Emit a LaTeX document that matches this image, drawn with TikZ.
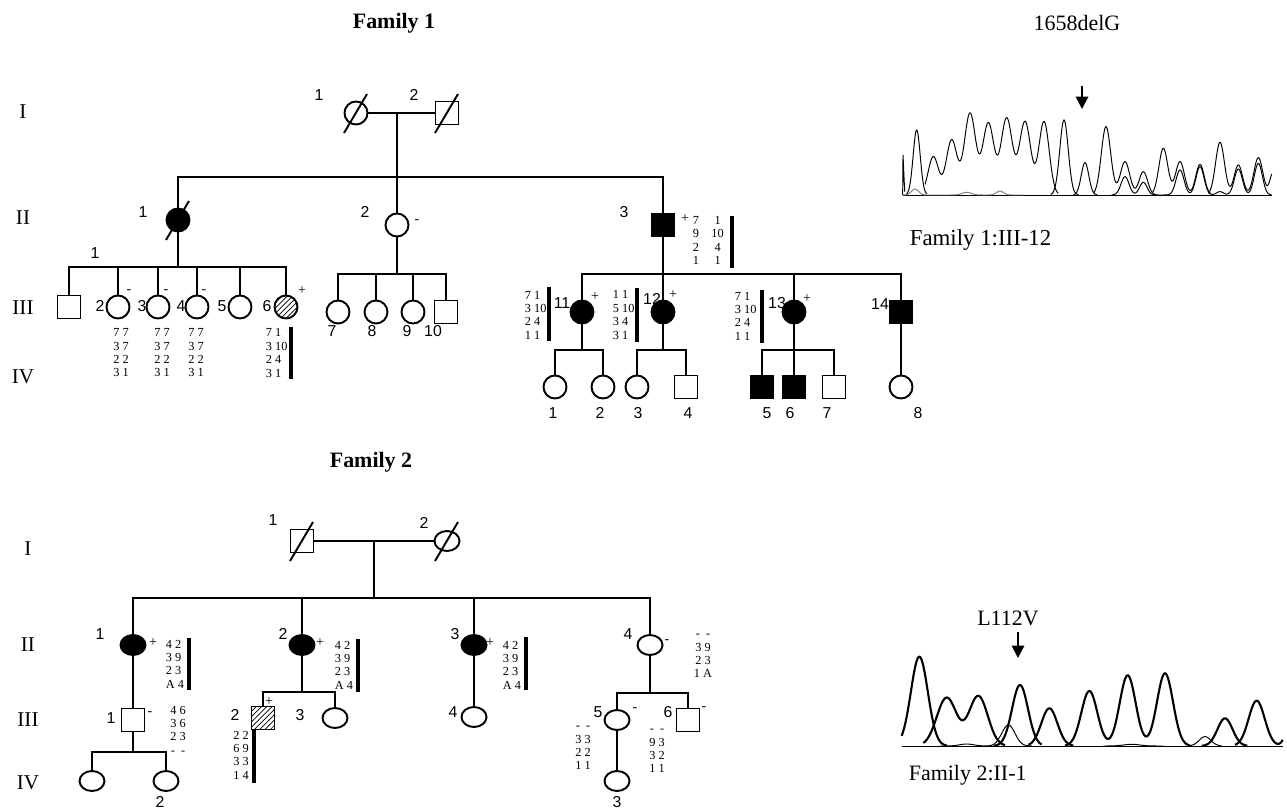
\documentclass[tikz,border=0pt]{standalone}
\usepackage{fontspec}
\setmainfont{Liberation Serif}
\setsansfont{Liberation Sans}
\usetikzlibrary{shapes.geometric,patterns,arrows.meta}

\tikzset{
  male/.style={draw, rectangle, minimum size=0.46cm, inner sep=0pt},
  female/.style={draw, circle, minimum size=0.46cm, inner sep=0pt},
  femaleb/.style={draw, ellipse, minimum width=0.5cm, minimum height=0.4cm, inner sep=0pt},
  affected/.style={fill=black},
  carrier/.style={pattern=north east lines},
  num/.style={font=\sffamily\fontsize{9}{9}\selectfont, inner sep=0pt},
  sign/.style={font=\fontsize{8}{8}\selectfont, inner sep=0pt},
  geno/.style={font=\fontsize{7}{7.6}\selectfont, inner sep=0pt, align=center},
  genlbl/.style={font=\fontsize{12}{12}\selectfont, inner sep=0pt},
  hapbar/.style={line width=2.3pt},
  trace/.style={line width=0.55pt, samples=80, variable=\x},
  tracebold/.style={line width=1.2pt, samples=60, variable=\x},
}

\begin{document}
\begin{tikzpicture}[x=0.02cm, y=-0.02cm, line width=1.1pt,
    declare function={pk(\t,\c,\h,\s)=\h*exp(-((\t-\c)/\s)^2);}]
    \useasboundingbox (0,0) rectangle (1287,810);

    % titles
    \node[font=\bfseries\fontsize{12.5}{12.5}\selectfont] (tA) at (394,23) {Family 1};
    \node[font=\bfseries\fontsize{12.5}{12.5}\selectfont] (tB) at (371,462) {Family 2};
    \node[font=\fontsize{12.5}{12.5}\selectfont] (tMutA) at (1077,23) {1658delG};
    \node[font=\fontsize{12.5}{12.5}\selectfont] (tMutB) at (1008,618) {L112V};
    \node[font=\fontsize{13}{13}\selectfont, anchor=west] (cA) at (903,240) {Family 1:III-12};
    \node[font=\fontsize{12.5}{12.5}\selectfont, anchor=west] (cB) at (902,775) {Family 2:II-1};

    % generations
    \foreach \g/\y in {I/112, II/218, III/308, IV/377}
        \node[genlbl] (gA\g) at (23,\y) {\g};
    \foreach \g/\y in {I/549, II/645, III/720, IV/783}
        \node[genlbl] (gB\g) at (28,\y) {\g};

    % ---------- Family 1 ----------
    \node[female] (AI1) at (356,113) {};
    \node[male] (AI2) at (447,113) {};
    \node[female,affected] (AII1) at (178,220) {};
    \node[female] (AII2) at (397,225) {};
    \node[male,affected] (AII3) at (663,225) {};

    \node[male] (AIII1) at (69,307) {};
    \foreach \k/\x in {2/118, 3/158, 4/197, 5/240}
        \node[female] (AIII\k) at (\x,307) {};
    \node[female,carrier] (AIII6) at (286,307) {};
    \foreach \k/\x in {7/338, 8/376, 9/413}
        \node[female] (AIII\k) at (\x,312) {};
    \node[male] (AIII10) at (446,312) {};
    \foreach \k/\x in {11/582, 12/663, 13/794}
        \node[female,affected] (AIII\k) at (\x,312) {};
    \node[male,affected] (AIII14) at (901,312) {};

    \foreach \k/\x in {1/555, 2/603, 3/637, 8/901}
        \node[female] (AIV\k) at (\x,387) {};
    \node[male] (AIV4) at (686,387) {};
    \node[male,affected] (AIV5) at (762,387) {};
    \node[male,affected] (AIV6) at (794,387) {};
    \node[male] (AIV7) at (834,387) {};

    \coordinate (mA) at (397,113);
    \coordinate (sA1) at (397,177);
    \coordinate (sA2) at (178,267);
    \coordinate (sA3) at (397,274);
    \coordinate (sA4) at (663,274);
    \coordinate (sA5) at (582,350);
    \coordinate (sA6) at (663,350);
    \coordinate (sA7) at (794,350);

    \draw (AI1) -- (AI2);
    \draw (mA) -- (AII2);
    \draw (AII1) |- (sA1) -| (AII3);
    \draw (AII1) -- (sA2);
    \draw (AIII1) |- (sA2) -| (AIII6);
    \foreach \k in {2,...,5}
        \draw (AIII\k) -- (AIII\k |- sA2);
    \draw (AII2) -- (sA3);
    \draw (AIII7) |- (sA3) -| (AIII10);
    \foreach \k in {8,9}
        \draw (AIII\k) -- (AIII\k |- sA3);
    \draw (AII3) -- (AIII12);
    \draw (AIII11) |- (sA4) -| (AIII14);
    \draw (AIII13) -- (AIII13 |- sA4);
    \draw (AIII11) -- (sA5);
    \draw (AIV1) |- (sA5) -| (AIV2);
    \draw (AIII12) -- (sA6);
    \draw (AIV3) |- (sA6) -| (AIV4);
    \draw (AIII13) -- (AIV6);
    \draw (AIV5) |- (sA7) -| (AIV7);
    \draw (AIII14) -- (AIV8);

    % numbers
    \node[num] (nAI1) at (319,95) {1};
    \node[num] (nAI2) at (414,95) {2};
    \node[num] (nAII1) at (143,212) {1};
    \node[num] (nAII2) at (365,212) {2};
    \node[num] (nAII3) at (624,212) {3};
    \node[num] (nAIII1) at (95,253) {1};
    \foreach \k/\x in {2/100, 3/142, 4/181, 5/222, 6/267}
        \node[num] (nAIII\k) at (\x,306) {\k};
    \foreach \k/\x in {7/332, 8/372, 9/407, 10/433}
        \node[num] (nAIII\k) at (\x,331) {\k};
    \node[num] (nAIII11) at (562,303) {11};
    \node[num] (nAIII12) at (652,299) {12};
    \node[num] (nAIII13) at (777,303) {13};
    \node[num] (nAIII14) at (880,304) {14};
    \foreach \k/\x in {1/553, 2/600, 3/638, 4/688, 5/767, 6/790, 7/827, 8/918}
        \node[num] (nAIV\k) at (\x,413) {\k};

    % signs
    \node[sign] (pAII2) at (417,222) {-};
    \node[sign] (pAII3) at (685,219) {+};
    \foreach \k/\x in {2/129, 3/166, 4/204}
        \node[sign] (pAIII\k) at (\x,292) {-};
    \node[sign] (pAIII6) at (302,291) {+};
    \node[sign] (pAIII11) at (595,297) {+};
    \node[sign] (pAIII12) at (673,295) {+};
    \node[sign] (pAIII13) at (807,299) {+};

    % haplotypes
    \foreach \k/\x in {2/121, 3/162, 4/196}
        \node[geno] (hAIII\k) at (\x,353) {7 7\\3 7\\2 2\\3 1};
    \node[geno, anchor=west, align=left] (hAIII6) at (265,353) {7 1\\3 10\\2 4\\3 1};
    \node[geno, anchor=west, align=left] (hAIII11) at (524,315) {7 1\\3 10\\2 4\\1 1};
    \node[geno, anchor=west, align=left] (hAIII12) at (612,315) {1 1\\5 10\\3 4\\3 1};
    \node[geno, anchor=west, align=left] (hAIII13) at (734,316) {7 1\\3 10\\2 4\\1 1};
    \node[geno, anchor=west] (hAII3) at (692,242)
        {\begin{tabular}{@{}c@{\hspace{7pt}}c@{}}7&1\\9&10\\2&4\\1&1\end{tabular}};
    \draw[hapbar] (291,327) -- (291,379);
    \draw[hapbar] (549,287) -- (549,341);
    \draw[hapbar] (637,288) -- (637,342);
    \draw[hapbar] (762,290) -- (762,343);
    \draw[hapbar] (732,216) -- (732,268);

    % ---------- Family 2 ----------
    \node[male] (BI1) at (302,541) {};
    \node[femaleb] (BI2) at (447,541) {};
    \foreach \k/\x in {1/133, 2/302, 3/474}
        \node[femaleb,affected] (BII\k) at (\x,645) {};
    \node[femaleb] (BII4) at (650,645) {};
    \node[male] (BIII1) at (133,720) {};
    \node[male,carrier] (BIII2) at (263,718) {};
    \node[femaleb] (BIII3) at (335,718) {};
    \node[femaleb] (BIII4) at (474,717) {};
    \node[femaleb] (BIII5) at (617,720) {};
    \node[male] (BIII6) at (688,720) {};
    \node[femaleb] (BIV1) at (92,781) {};
    \node[femaleb] (BIV2) at (166,781) {};
    \node[femaleb] (BIV3) at (617,781) {};

    \coordinate (mB) at (374,541);
    \coordinate (sB1) at (374,598);
    \coordinate (sB2) at (133,752);
    \coordinate (sB3) at (302,692);
    \coordinate (sB4) at (650,693);

    \draw (BI1) -- (BI2);
    \draw (mB) -- (sB1);
    \draw (BII1) |- (sB1) -| (BII4);
    \draw (BII2) -- (BII2 |- sB1);
    \draw (BII3) -- (BII3 |- sB1);
    \draw (BII1) -- (BIII1);
    \draw (BIII1) -- (sB2);
    \draw (BIV1) |- (sB2) -| (BIV2);
    \draw (BII2) -- (sB3);
    \draw (BIII2) |- (sB3) -| (BIII3);
    \draw (BII3) -- (BIII4);
    \draw (BII4) -- (sB4);
    \draw (BIII5) |- (sB4) -| (BIII6);
    \draw (BIII5) -- (BIV3);

    \foreach \n in {AI1, AI2, AII1, BI1, BI2}
        \draw ([shift={(-12,20)}]\n.center) -- ([shift={(11,-19)}]\n.center);

    \node[num] (nBI1) at (273,520) {1};
    \node[num] (nBI2) at (424,523) {2};
    \foreach \k/\x in {1/100, 2/283, 3/455, 4/628}
        \node[num] (nBII\k) at (\x,634) {\k};
    \node[num] (nBIII1) at (111,718) {1};
    \node[num] (nBIII2) at (235,715) {2};
    \node[num] (nBIII3) at (300,715) {3};
    \node[num] (nBIII4) at (453,712) {4};
    \node[num] (nBIII5) at (598,712) {5};
    \node[num] (nBIII6) at (668,712) {6};
    \node[num] (nBIV2) at (160,802) {2};
    \node[num] (nBIV3) at (617,802) {3};

    \node[sign] (pBII1) at (153,643) {+};
    \node[sign] (pBII2) at (320,643) {+};
    \node[sign] (pBII3) at (490,643) {+};
    \node[sign] (pBII4) at (667,642) {-};
    \node[sign] (pBIII1) at (150,714) {-};
    \node[sign] (pBIII2) at (269,702) {+};
    \node[sign] (pBIII5) at (635,710) {-};
    \node[sign] (pBIII6) at (704,709) {-};

    \node[geno, anchor=west, align=left] (hBII1) at (165,664) {4 2\\3 9\\2 3\\A 4};
    \node[geno, anchor=west, align=left] (hBII2) at (334,665) {4 2\\3 9\\2 3\\A 4};
    \node[geno, anchor=west, align=left] (hBII3) at (502,665) {4 2\\3 9\\2 3\\A 4};
    \node[geno] (hBII4) at (703,656) {- \ -\\3 9\\2 3\\1 A};
    \node[geno] (hBIII1) at (178,730) {4 6\\3 6\\2 3\\- \ -};
    \node[geno] (hBIII2) at (241,755) {2 2\\6 9\\3 3\\1 4};
    \node[geno] (hBIII5) at (583,748) {- \ -\\3 3\\2 2\\1 1};
    \node[geno] (hBIII6) at (657,751) {- \ -\\9 3\\3 2\\1 1};
    \draw[hapbar] (189,638) -- (189,690);
    \draw[hapbar] (358,639) -- (358,692);
    \draw[hapbar] (526,637) -- (526,690);
    \draw[hapbar] (254,730) -- (254,783);

    % ---------- sequence traces ----------
    \coordinate (arA1) at (1082,86);
    \coordinate (arA2) at (1082,109);
    \draw[-{Triangle[length=7pt,width=7pt]}] (arA1) -- (arA2);
    \coordinate (arB1) at (1018,632);
    \coordinate (arB2) at (1018,658);
    \draw[-{Triangle[length=7pt,width=7pt]}] (arB1) -- (arB2);

    \begin{scope}[shift={(890,60)}, scale=1/3]
        \draw[trace] (38,405) -- (1145,405);
        \draw[trace] (38,405) -- (39,285) -- (44,395);
        \draw[trace, domain=48:110] plot ({\x}, {405-pk(\x,80,195,15)});
        \draw[trace, domain=105:505, samples=200] plot ({\x}, {405-pk(\x,130,115,22)-pk(\x,185,165,23)
            -pk(\x,240,245,24)-pk(\x,295,215,24)-pk(\x,350,230,24)-pk(\x,405,220,24)-pk(\x,462,220,22)});
        \draw[trace, domain=482:565] plot ({\x}, {405-pk(\x,522,225,18)});
        \draw[trace, domain=550:622] plot ({\x}, {405-pk(\x,585,97,16)});
        \draw[trace, domain=610:798, samples=120] plot ({\x}, {405-pk(\x,648,205,20)-pk(\x,705,100,20)-pk(\x,760,70,18)});
        \draw[trace, domain=788:962, samples=120] plot ({\x}, {405-pk(\x,820,140,19)-pk(\x,870,100,19)-pk(\x,930,92,18)});
        \draw[trace, domain=955:1145, samples=140] plot ({\x}, {405-pk(\x,990,158,19)-pk(\x,1045,90,18)-pk(\x,1105,112,19)-pk(\x,1150,70,14)});
        \draw[trace, gray, domain=40:400, samples=100] plot ({\x}, {405-pk(\x,75,18,15)-pk(\x,230,8,20)-pk(\x,330,12,15)});
        \draw[trace, domain=665:1145, samples=200] plot ({\x}, {405-pk(\x,705,55,17)-pk(\x,760,38,16)-pk(\x,870,75,17)
            -pk(\x,930,85,17)-pk(\x,990,10,15)-pk(\x,1045,78,17)-pk(\x,1105,95,17)});
    \end{scope}

    \begin{scope}[shift={(890,600)}, scale=1/3]
        \draw[trace] (35,438) -- (1178,438);
        \draw[trace, domain=150:320] plot ({\x}, {438-pk(\x,230,6,30)});
        \draw[trace, domain=640:820] plot ({\x}, {438-pk(\x,725,5,35)});
        \draw[tracebold, domain=35:170] plot ({\x}, {438-pk(\x,88,268,36)});
        \draw[tracebold, domain=100:345] plot ({\x}, {438-pk(\x,170,145,42)-pk(\x,265,150,40)});
        \draw[tracebold, domain=312:455] plot ({\x}, {438-pk(\x,390,183,34)});
        \draw[trace, domain=295:425] plot ({\x}, {438-pk(\x,355,63,28)});
        \draw[tracebold, domain=415:550] plot ({\x}, {438-pk(\x,478,113,34)});
        \draw[tracebold, domain=525:900, samples=150] plot ({\x}, {438-pk(\x,598,165,34)-pk(\x,713,212,34)-pk(\x,825,218,34)});
        \draw[trace, domain=895:995] plot ({\x}, {438-pk(\x,945,28,25)});
        \draw[tracebold, domain=935:1072] plot ({\x}, {438-pk(\x,1005,83,32)});
        \draw[tracebold, domain=1035:1178] plot ({\x}, {438-pk(\x,1100,136,34)-pk(\x,1205,80,22)});
    \end{scope}
\end{tikzpicture}
\end{document}
